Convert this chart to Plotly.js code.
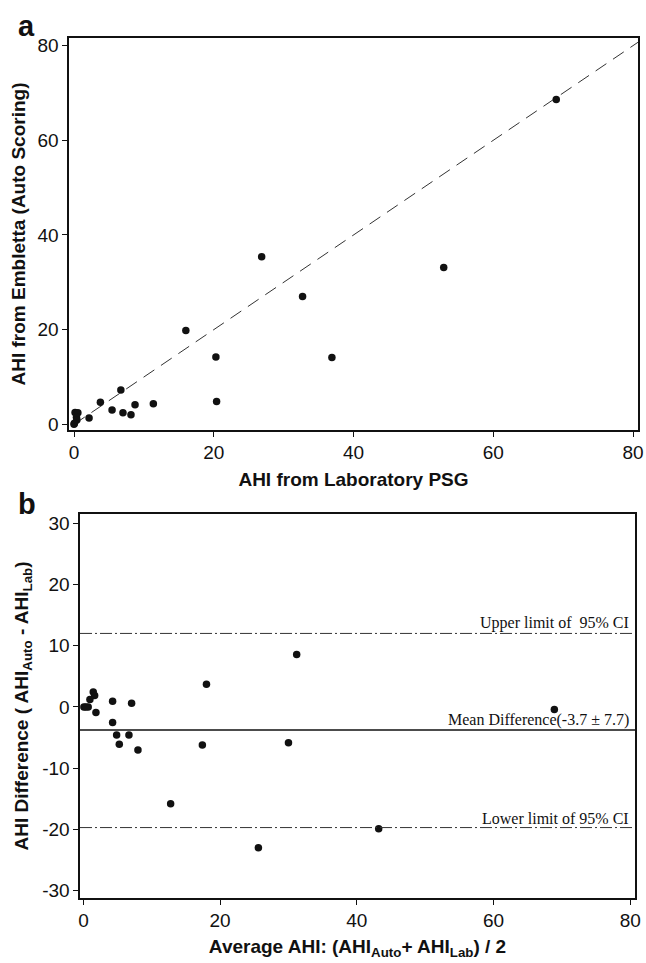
<!DOCTYPE html>
<html>
<head>
<meta charset="utf-8">
<script src="https://cdn.plot.ly/plotly-3.0.1.min.js"></script>
<style>html,body{margin:0;padding:0;background:#fff;}#chart{width:646px;height:963px;}</style>
</head>
<body>
<div id="chart"></div>
<script>
// Panel a: AHI from laboratory PSG (x) vs AHI from Embletta auto scoring (y)
var labAHI  = [26.85, 32.7, 16.0, 20.3, 36.9, 20.4, 6.7, 3.77, 11.35, 8.73, 5.44, 7.0, 8.15, 2.15, 52.9, 69.0, 0.15, 0.55, 0.35, 0.4, 0.05, 0.0];
var autoAHI = [35.4, 27.0, 19.8, 14.2, 14.1, 4.8, 7.25, 4.65, 4.36, 4.15, 3.0, 2.45, 2.0, 1.33, 33.1, 68.6, 2.5, 2.45, 1.5, 0.9, 0.2, 0.0];
var identityX = [0, 81];
var identityY = [0, 81];

// Panel b: Bland-Altman
var meanAHI = [31.2, 18.0, 30.0, 17.4, 12.76, 25.6, 43.2, 68.9, 1.44, 1.64, 0.95, 0.07, 0.7, 0.35, 1.83, 4.27, 7.05, 4.27, 4.86, 6.66, 5.25, 7.98];
var diffAHI = [8.57, 3.69, -5.85, -6.2, -15.8, -23.0, -19.9, -0.42, 2.44, 1.85, 1.2, 0.0, 0.0, 0.0, -0.92, 0.93, 0.6, -2.54, -4.6, -4.6, -6.1, -7.04];
var upperLimit = 12.0;
var meanDiff = -3.75;
var lowerLimit = -19.7;

var xTicksA = [0, 20, 40, 60, 80];
var yTicksA = [0, 20, 40, 60, 80];
var xTicksB = [0, 20, 40, 60, 80];
var yTicksB = [-30, -20, -10, 0, 10, 20, 30];

var W = 646, H = 963;
var tickFont = {family: 'Liberation Sans, Arial, sans-serif', size: 19, color: '#111'};
var titleFont = {family: 'Liberation Sans, Arial, sans-serif', size: 19, color: '#111', weight: 'bold'};
var serif = {family: 'Liberation Serif, Times New Roman, serif', size: 16, color: '#111'};

var traces = [
  {x: identityX, y: identityY, xaxis: 'x', yaxis: 'y', mode: 'lines',
   line: {color: '#333', width: 1, dash: '13px,8px'}, hoverinfo: 'skip', showlegend: false},
  {x: labAHI, y: autoAHI, xaxis: 'x', yaxis: 'y', mode: 'markers',
   marker: {color: '#111', size: 7.5}, showlegend: false},
  {x: meanAHI, y: diffAHI, xaxis: 'x2', yaxis: 'y2', mode: 'markers',
   marker: {color: '#111', size: 7.5}, showlegend: false}
];

function axisBase(extra) {
  var o = {
    showline: true, linecolor: '#111', linewidth: 1.6, mirror: true,
    ticks: 'outside', ticklen: 5, tickwidth: 1, tickcolor: '#111',
    showgrid: false, zeroline: false, tickfont: tickFont, automargin: false,
    tickmode: 'array'
  };
  for (var k in extra) o[k] = extra[k];
  return o;
}

var layout = {
  width: W, height: H,
  margin: {l: 0, r: 0, t: 0, b: 0},
  paper_bgcolor: '#fff', plot_bgcolor: '#fff',
  showlegend: false,
  xaxis: axisBase({domain: [69 / W, 638 / W], range: [-0.72, 80.7], anchor: 'y',
    tickvals: xTicksA, ticktext: xTicksA.map(String),
    title: {text: 'AHI from Laboratory PSG', font: titleFont, standoff: 10}}),
  yaxis: axisBase({domain: [(H - 430) / H, (H - 38) / H], range: [-1.2, 81.6], anchor: 'x',
    tickvals: yTicksA, ticktext: yTicksA.map(String),
    title: {text: 'AHI from Embletta (Auto Scoring)', font: titleFont, standoff: 7}}),
  xaxis2: axisBase({domain: [80 / W, 635 / W], range: [-0.5, 80.7], anchor: 'y2',
    tickvals: xTicksB, ticktext: xTicksB.map(String),
    title: {text: 'Average AHI: (AHI<sub>Auto</sub>+ AHI<sub>Lab</sub>) / 2', font: titleFont, standoff: 9}}),
  yaxis2: axisBase({domain: [(H - 898) / H, (H - 514) / H], range: [-31.2, 31.5], anchor: 'x2',
    tickvals: yTicksB, ticktext: yTicksB.map(String),
    title: {text: 'AHI Difference ( AHI<sub>Auto</sub> - AHI<sub>Lab</sub>)', font: titleFont, standoff: 8}}),
  shapes: [
    {type: 'line', xref: 'x2 domain', yref: 'y2', x0: 0, x1: 1, y0: upperLimit, y1: upperLimit,
     line: {color: '#333', width: 1, dash: '12px,3px,2px,3px'}},
    {type: 'line', xref: 'x2 domain', yref: 'y2', x0: 0, x1: 1, y0: meanDiff, y1: meanDiff,
     line: {color: '#111', width: 1.5}},
    {type: 'line', xref: 'x2 domain', yref: 'y2', x0: 0, x1: 1, y0: lowerLimit, y1: lowerLimit,
     line: {color: '#333', width: 1, dash: '12px,3px,2px,3px'}}
  ],
  annotations: [
    {text: '<b>a</b>', xref: 'paper', yref: 'paper', x: 16 / W, y: (H - 8) / H, xanchor: 'left', yanchor: 'top',
     showarrow: false, font: {family: 'Liberation Sans, Arial, sans-serif', size: 29, color: '#111'}},
    {text: '<b>b</b>', xref: 'paper', yref: 'paper', x: 16 / W, y: (H - 486) / H, xanchor: 'left', yanchor: 'top',
     showarrow: false, font: {family: 'Liberation Sans, Arial, sans-serif', size: 29, color: '#111'}},
    {text: 'Upper limit of  95% CI', xref: 'x2', yref: 'y2', x: 79.9, y: upperLimit, xanchor: 'right', yanchor: 'bottom',
     showarrow: false, font: serif, borderpad: 0},
    {text: 'Mean Difference(-3.7 ± 7.7)', xref: 'x2', yref: 'y2', x: 79.9, y: meanDiff, xanchor: 'right', yanchor: 'bottom',
     showarrow: false, font: serif, borderpad: 0},
    {text: 'Lower limit of 95% CI', xref: 'x2', yref: 'y2', x: 79.9, y: lowerLimit, xanchor: 'right', yanchor: 'bottom',
     showarrow: false, font: serif, borderpad: 0}
  ]
};

Plotly.newPlot('chart', traces, layout, {displayModeBar: false, staticPlot: true});
</script>
</body>
</html>
